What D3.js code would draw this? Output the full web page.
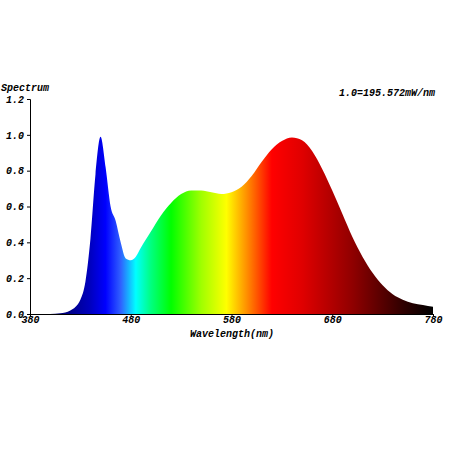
<!DOCTYPE html><html><head><meta charset="utf-8"><script src="https://cdn.jsdelivr.net/npm/d3@7"></script>
<style>body{margin:0;background:#fff}text{font-family:"Liberation Mono","DejaVu Sans Mono",monospace;font-weight:bold;font-style:italic;font-size:10px}</style></head><body><svg id="c" width="452" height="452"></svg>
<script>
const wavelengths=[380,390,400,410,420,430,435,440,445,450,455,460,465,470,475,480,485,490,500,510,520,530,540,550,560,570,580,590,600,610,620,630,640,650,660,670,680,690,700,710,720,730,740,750,760,770,780];
const values=[0,0,0,0.004,0.02,0.08,0.18,0.42,0.78,0.99,0.82,0.6,0.52,0.4,0.31,0.3,0.32,0.37,0.46,0.55,0.62,0.67,0.69,0.69,0.68,0.67,0.68,0.71,0.77,0.85,0.92,0.965,0.985,0.97,0.91,0.81,0.69,0.56,0.43,0.32,0.23,0.16,0.11,0.08,0.06,0.05,0.04];
const xTicks=[380,480,580,680,780];
const yTicks=[0,0.2,0.4,0.6,0.8,1.0,1.2];
const colorStops=[[380,"#000040"],[420,"#00008a"],[440,"#0000c0"],[455,"#0000ff"],[470,"#3060ff"],[485,"#00ffff"],[500,"#00ff80"],[520,"#00ff00"],[550,"#a0ff00"],[575,"#ffff00"],[595,"#ff9000"],[620,"#ff0000"],[650,"#e00000"],[700,"#900000"],[750,"#300000"],[780,"#000000"]];
const svg=d3.select("#c");
const x=d3.scaleLinear().domain([380,780]).range([30,433]);
const y=d3.scaleLinear().domain([0,1.2]).range([314,99]);
const g=svg.append("defs").append("linearGradient").attr("id","sp").attr("gradientUnits","userSpaceOnUse").attr("x1",x(380)).attr("x2",x(780)).attr("y1",0).attr("y2",0);
colorStops.forEach(s=>g.append("stop").attr("offset",(s[0]-380)/400).attr("stop-color",s[1]));
const data=wavelengths.map((w,i)=>[w,values[i]]);
svg.append("path").datum(data).attr("fill","url(#sp)").attr("d",d3.area().curve(d3.curveMonotoneX).x(d=>x(d[0])).y0(y(0)).y1(d=>y(d[1])));
const ya=svg.append("g").attr("transform","translate(30,0)").call(d3.axisLeft(y).tickValues(yTicks).tickFormat(d3.format(".1f")).tickSize(3));
const xa=svg.append("g").attr("transform","translate(0,314)").call(d3.axisBottom(x).tickValues(xTicks).tickSize(3));
[ya,xa].forEach(a=>{a.select(".domain").attr("stroke","#000");a.selectAll("text").attr("fill","#000").style("font-size","10px");});
xa.selectAll("text").attr("y",2).attr("dy","0.71em");
svg.append("text").attr("x",1).attr("y",91).text("Spectrum");
svg.append("text").attr("x",435).attr("y",96).attr("text-anchor","end").text("1.0=195.572mW/nm");
svg.append("text").attr("x",232).attr("y",337).attr("text-anchor","middle").text("Wavelength(nm)");
</script></body></html>
